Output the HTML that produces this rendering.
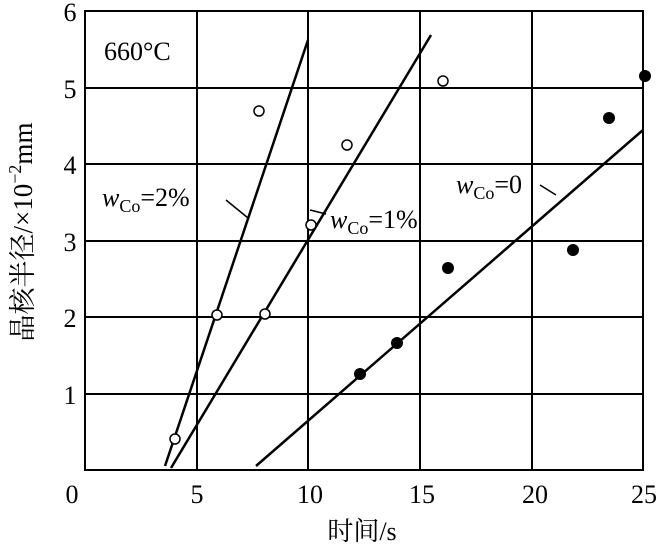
<html><body style="margin:0;background:#fff">
<svg width="661" height="547" xmlns="http://www.w3.org/2000/svg" style="font-family:'Liberation Serif','Noto Serif CJK SC',serif">
<g stroke="#000" stroke-width="2" fill="none">
<rect x="85" y="11" width="558" height="459"/>
<line x1="197" y1="11" x2="197" y2="470"/><line x1="308" y1="11" x2="308" y2="470"/>
<line x1="420" y1="11" x2="420" y2="470"/><line x1="532" y1="11" x2="532" y2="470"/>
<line x1="85" y1="88" x2="643" y2="88"/><line x1="85" y1="164" x2="643" y2="164"/>
<line x1="85" y1="241" x2="643" y2="241"/><line x1="85" y1="317" x2="643" y2="317"/>
<line x1="85" y1="394" x2="643" y2="394"/>
<line x1="165" y1="466" x2="308" y2="40" stroke-width="2.5"/>
<line x1="171" y1="468" x2="431" y2="35" stroke-width="2.5"/>
<line x1="256" y1="466" x2="643" y2="130" stroke-width="2.5"/>
<line x1="226" y1="200" x2="248" y2="218" stroke-width="1.5"/>
<line x1="310" y1="210" x2="326" y2="214" stroke-width="1.5"/>
<line x1="540" y1="185" x2="556" y2="195" stroke-width="1.5"/>
</g>
<g fill="#fff" stroke="#000" stroke-width="1.5">
<circle cx="175" cy="439" r="5"/><circle cx="217" cy="315" r="5"/><circle cx="259" cy="111" r="5"/>
<circle cx="265" cy="314" r="5"/><circle cx="311" cy="225" r="5"/><circle cx="347" cy="145" r="5"/><circle cx="443" cy="81" r="5"/>
</g>
<g fill="#000">
<circle cx="360" cy="374" r="6"/><circle cx="397" cy="343" r="6"/><circle cx="448" cy="268" r="6"/>
<circle cx="573" cy="250" r="6"/><circle cx="609" cy="118" r="6"/><circle cx="645" cy="76" r="6"/>
</g>
<g font-size="26" text-anchor="middle">
<text x="70" y="21">6</text><text x="70" y="98">5</text><text x="70" y="174">4</text><text x="70" y="251">3</text>
<text x="70" y="327">2</text><text x="70" y="404">1</text>
<text x="72" y="503">0</text><text x="197" y="503">5</text><text x="310" y="503">10</text>
<text x="422" y="503">15</text><text x="535" y="503">20</text><text x="644" y="503">25</text>
<text x="362" y="540">时间/s</text>
</g>
<text x="104" y="60" font-size="26">660°C</text>
<text x="102" y="206" font-size="26"><tspan font-style="italic">w</tspan><tspan font-size="18" dy="6">Co</tspan><tspan dy="-6">=2%</tspan></text>
<text x="330" y="228" font-size="26"><tspan font-style="italic">w</tspan><tspan font-size="18" dy="6">Co</tspan><tspan dy="-6">=1%</tspan></text>
<text x="456" y="193" font-size="26"><tspan font-style="italic">w</tspan><tspan font-size="18" dy="6">Co</tspan><tspan dy="-6">=0</tspan></text>
<text transform="translate(32,232) rotate(-90)" font-size="27" text-anchor="middle">晶核半径/×10<tspan font-size="18" dy="-11">−2</tspan><tspan dy="11">mm</tspan></text>
</svg>
</body></html>
